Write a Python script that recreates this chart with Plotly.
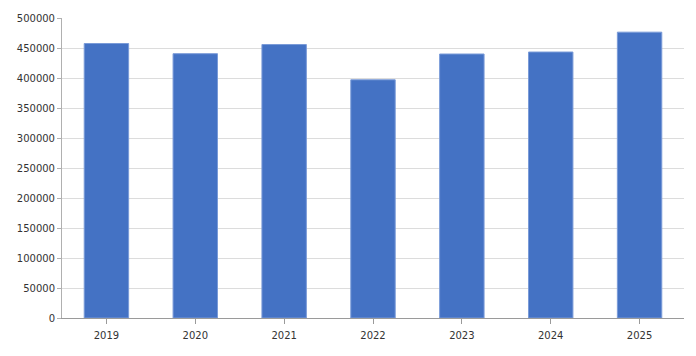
import plotly.graph_objects as go

years = ["2019", "2020", "2021", "2022", "2023", "2024", "2025"]
values = [457500, 440500, 455800, 397000, 440000, 443300, 476400]
y_ticks = [0, 50000, 100000, 150000, 200000, 250000, 300000, 350000, 400000, 450000, 500000]

fig = go.Figure(go.Bar(
    x=years, y=values,
    marker=dict(color="#4472C4", line=dict(color="#7A9BD8", width=1)),
    width=0.5,
))
fig.update_layout(
    width=696, height=356,
    margin=dict(l=62, r=12, t=16, b=38),
    paper_bgcolor="white", plot_bgcolor="white",
    font=dict(family="DejaVu Sans", size=10, color="#333333"),
    showlegend=False,
    bargap=0.5,
)
fig.update_xaxes(
    type="category",
    showline=True, linecolor="#9a9a9a", linewidth=1,
    ticks="outside", ticklen=5, tickcolor="#9a9a9a",
    ticklabelstandoff=3,
    showgrid=False,
)
fig.update_yaxes(
    range=[0, 500000],
    tickvals=y_ticks, ticktext=[str(v) for v in y_ticks],
    showline=True, linecolor="#b0b0b0", linewidth=1,
    ticks="outside", ticklen=4, tickcolor="#b0b0b0",
    showgrid=True, gridcolor="#dcdcdc", gridwidth=1,
    zeroline=False,
)
fig.write_html("out.html")
